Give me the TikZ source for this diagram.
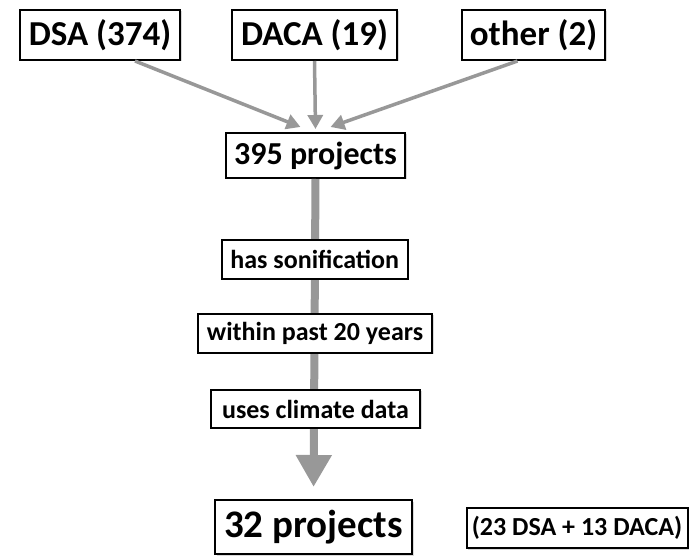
\documentclass[tikz,border=0pt]{standalone}
\usepackage{fontspec}
\setmainfont{Carlito}
\usetikzlibrary{arrows.meta,shadows}
\definecolor{flowgray}{RGB}{152,152,152}

\begin{document}
\begin{tikzpicture}[x=1pt,y=-1pt,
  every node/.style = {shape=rectangle, draw, line width=2pt, fill=white,
    inner sep=0pt, align=center,
    drop shadow={shadow xshift=1.5pt, shadow yshift=-1.5pt, opacity=0.3}},
  source/.style = {minimum height=50pt, font=\bfseries\fontsize{35}{40}\selectfont},
  total/.style = {font=\bfseries\fontsize{32}{36}\selectfont},
  filter/.style = {minimum height=39pt, font=\bfseries\fontsize{26}{30}\selectfont},
  feed/.style = {draw=flowgray, line width=3.5pt, -{Triangle[length=14pt,width=15pt]}},
  funnel/.style = {draw=flowgray, line width=8pt, -{Triangle[length=32pt,width=34pt]}}]
  \useasboundingbox (0,0) rectangle (689,556);
  \node[source, minimum width=160pt] (dsa) at (100,35) {DSA (374)};
  \node[source, minimum width=165pt] (daca) at (314.5,35) {DACA (19)};
  \node[source, minimum width=143pt] (other) at (533.5,35) {other (2)};
  \node[total, minimum width=179pt, minimum height=45pt] (all) at (315.5,155.5) {395 projects};
  \node[font=\bfseries\fontsize{39}{44}\selectfont, minimum width=197pt, minimum height=54pt]
    (final) at (313.5,527) {32 projects};
  \node[filter, minimum width=221pt, minimum height=40pt] (split) at (577,528) {(23 DSA + 13 DACA)};
  \draw[feed] ([xshift=35pt]dsa.south) -- ([xshift=-15pt,yshift=5pt]all.north);
  \draw[feed] (daca.south) -- ([yshift=3pt]all.north);
  \draw[feed] ([xshift=-16pt]other.south) -- ([xshift=15pt,yshift=5pt]all.north);
  \draw[funnel, shorten >=12pt] (all.south) -- (final.north);
  \node[filter, minimum width=186pt] (sonif) at (314.7,259.5) {has sonification};
  \node[filter, minimum width=234pt] (recent) at (315,333.5) {within past 20 years};
  \node[filter, minimum width=209pt, minimum height=38pt] (climate) at (315.5,409) {uses climate data};
\end{tikzpicture}
\end{document}
